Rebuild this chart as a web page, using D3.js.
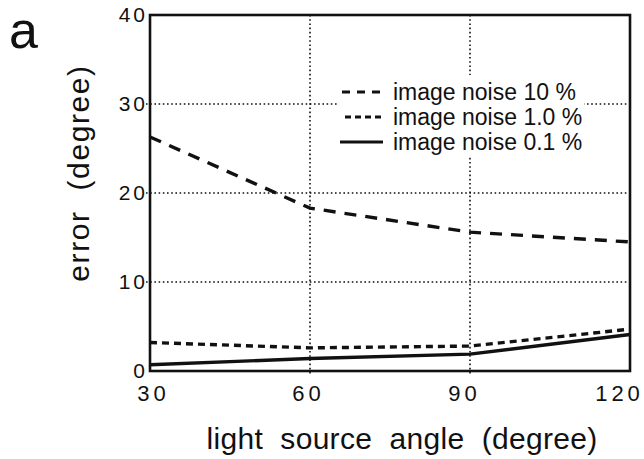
<!DOCTYPE html>
<html>
<head>
<meta charset="utf-8">
<script src="https://cdn.jsdelivr.net/npm/d3@7"></script>
<style>
  html, body { margin: 0; padding: 0; background: #fff; }
  svg { display: block; }
  text { font-family: "Liberation Sans", Arial, Helvetica, sans-serif; fill: #111; }
</style>
</head>
<body>
<svg id="chart" width="644" height="459"></svg>
<script>
// Light source angle (degree) on the x axis
const angles = [30, 60, 90, 120];
// Error (degree) for each image noise level
const noise10 = [26.3, 18.3, 15.6, 14.5];
const noise1 = [3.2, 2.6, 2.8, 4.7];
const noise01 = [0.7, 1.4, 1.9, 4.1];
const seriesNames = ["image noise 10 %", "image noise 1.0 %", "image noise 0.1 %"];
const xTicks = [30, 60, 90, 120];
const yTicks = [0, 10, 20, 30, 40];

const series = [
  { name: seriesNames[0], values: noise10, dash: "12,9", key: "8,7" },
  { name: seriesNames[1], values: noise1, dash: "7,5", key: "6,4" },
  { name: seriesNames[2], values: noise01, dash: null, key: null }
];

const svg = d3.select("#chart");
const plot = { left: 150, right: 630, top: 15, bottom: 371 };

const x = d3.scaleLinear().domain([30, 120]).range([plot.left, plot.right]);
const y = d3.scaleLinear().domain([0, 40]).range([plot.bottom, plot.top]);

// dotted grid
const grid = svg.append("g")
  .attr("stroke", "#111").attr("stroke-width", 1.6)
  .attr("stroke-dasharray", "1.6,2.6");
grid.selectAll("line.h").data(yTicks.filter(d => d > 0 && d < 40)).join("line")
  .attr("class", "h")
  .attr("x1", plot.left - 4).attr("x2", plot.right)
  .attr("y1", d => y(d)).attr("y2", d => y(d));
grid.selectAll("line.v").data(xTicks.filter(d => d > 30 && d < 120)).join("line")
  .attr("class", "v")
  .attr("x1", d => x(d)).attr("x2", d => x(d))
  .attr("y1", plot.top).attr("y2", plot.bottom + 4);

// legend background clears the grid behind it
svg.append("rect")
  .attr("x", 337).attr("y", 75).attr("width", 247).attr("height", 81)
  .attr("fill", "#fff");

// data lines
const line = d3.line()
  .x((d, i) => x(angles[i]))
  .y(d => y(d));
svg.append("g").selectAll("path").data(series).join("path")
  .attr("d", d => line(d.values))
  .attr("fill", "none")
  .attr("stroke", "#111")
  .attr("stroke-width", 3.4)
  .attr("stroke-dasharray", d => d.dash);

// frame
svg.append("rect")
  .attr("x", plot.left).attr("y", plot.top)
  .attr("width", plot.right - plot.left).attr("height", plot.bottom - plot.top)
  .attr("fill", "none").attr("stroke", "#111").attr("stroke-width", 2.6);

// axis tick labels (spread digits; outer labels nudged inward)
const xLabelShift = [3, -2, -6, -11];
const xAxis = d3.axisBottom(x).tickValues(xTicks).tickSize(0).tickPadding(14)
  .tickFormat(d3.format("d"));
const gx = svg.append("g").attr("transform", `translate(0,${plot.bottom})`).call(xAxis);
gx.select(".domain").remove();
gx.selectAll("text")
  .attr("font-size", 22).attr("letter-spacing", 4)
  .attr("dx", (d, i) => xLabelShift[i])
  .attr("font-family", "Liberation Sans, Arial, sans-serif").attr("fill", "#111");

const yAxis = d3.axisLeft(y).tickValues(yTicks).tickSize(0).tickPadding(2)
  .tickFormat(d3.format("d"));
const gy = svg.append("g").attr("transform", `translate(${plot.left},0)`).call(yAxis);
gy.select(".domain").remove();
gy.selectAll("text")
  .attr("font-size", 21).attr("letter-spacing", 3)
  .attr("font-family", "Liberation Sans, Arial, sans-serif").attr("fill", "#111");

// legend
const legend = svg.append("g");
const rowY = [92, 117, 142];
const keyX = [[342, 383], [345, 383], [340, 383]];
series.forEach((s, i) => {
  legend.append("line")
    .attr("x1", keyX[i][0]).attr("x2", keyX[i][1])
    .attr("y1", rowY[i]).attr("y2", rowY[i])
    .attr("stroke", "#111").attr("stroke-width", 3)
    .attr("stroke-dasharray", s.key);
  legend.append("text")
    .attr("x", 393).attr("y", rowY[i] + 8)
    .attr("font-size", 23)
    .text(s.name);
});

// axis titles
svg.append("text")
  .attr("x", 402).attr("y", 449)
  .attr("text-anchor", "middle").attr("font-size", 30)
  .attr("letter-spacing", 0.3)
  .style("white-space", "pre")
  .text("light  source  angle  (degree)");
svg.append("text")
  .attr("transform", "translate(89,173) rotate(-90)")
  .attr("text-anchor", "middle").attr("font-size", 30)
  .attr("letter-spacing", 1.6)
  .style("white-space", "pre")
  .text("error  (degree)");

// panel letter
svg.append("text")
  .attr("x", 9).attr("y", 48)
  .attr("font-size", 52)
  .text("a");
</script>
</body>
</html>
